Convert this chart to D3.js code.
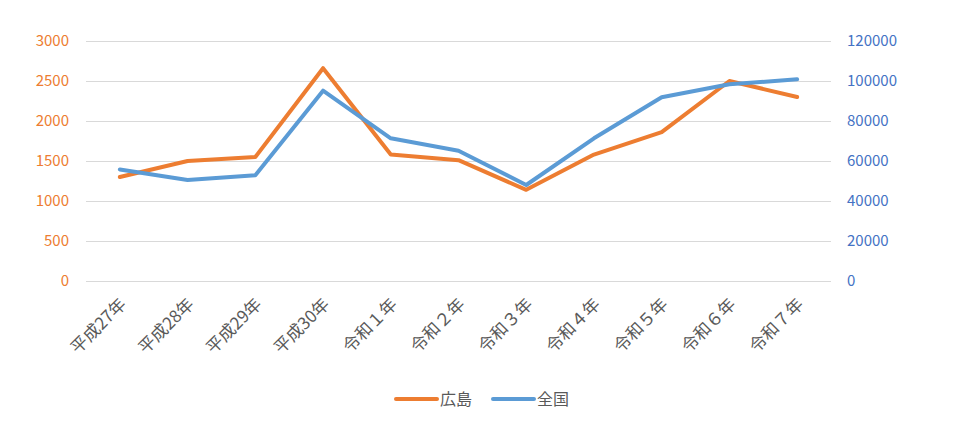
<!DOCTYPE html>
<meta charset="utf-8">
<style>
  body { margin: 0; background: #fff; }
  text { font-family: "Noto Sans CJK JP", "Noto Sans", sans-serif; }
</style>
<svg width="962" height="435"></svg>
<script src="https://d3js.org/d3.v7.min.js"></script>
<script>

var categories = ["平成27年", "平成28年", "平成29年", "平成30年", "令和１年", "令和２年", "令和３年", "令和４年", "令和５年", "令和６年", "令和７年"];
var hiroshima = [1300, 1500, 1550, 2660, 1580, 1510, 1140, 1580, 1860, 2500, 2300];
var zenkoku = [55800, 50500, 52850, 95150, 71350, 65150, 48000, 71350, 91850, 98350, 100850];
var leftTicks = [0, 500, 1000, 1500, 2000, 2500, 3000];
var rightTicks = [0, 20000, 40000, 60000, 80000, 100000, 120000];

var svg = d3.select("svg"),
    plotLeft = 86, plotRight = 831, plotTop = 41, plotBottom = 281;

var x = d3.scaleBand().domain(categories).range([plotLeft, plotRight]);
var yL = d3.scaleLinear().domain([0, 3000]).range([plotBottom, plotTop]);
var yR = d3.scaleLinear().domain([0, 120000]).range([plotBottom, plotTop]);

// gridlines
svg.append("g").selectAll("line")
  .data(leftTicks)
  .enter().append("line")
    .attr("x1", plotLeft).attr("x2", plotRight)
    .attr("y1", function(d) { return yL(d) + 0.5; })
    .attr("y2", function(d) { return yL(d) + 0.5; })
    .attr("stroke", "#d9d9d9")
    .attr("stroke-width", 1);

// left axis
var axL = svg.append("g")
    .attr("transform", "translate(" + (plotLeft - 17) + ",0)")
    .call(d3.axisLeft(yL).tickValues(leftTicks).tickFormat(d3.format("d")).tickSize(0).tickPadding(0));
axL.select(".domain").remove();
axL.selectAll("text")
    .attr("fill", "#ED7D31")
    .style("font-size", "15px");

// right axis
var axR = svg.append("g")
    .attr("transform", "translate(" + (plotRight + 16) + ",0)")
    .call(d3.axisRight(yR).tickValues(rightTicks).tickFormat(d3.format("d")).tickSize(0).tickPadding(0));
axR.select(".domain").remove();
axR.selectAll("text")
    .attr("fill", "#4472C4")
    .style("font-size", "15px");

// x axis labels
var axX = svg.append("g")
    .attr("transform", "translate(0," + (plotBottom + 16) + ")")
    .call(d3.axisBottom(x).tickSize(0).tickPadding(0));
axX.select(".domain").remove();
axX.selectAll("text")
    .attr("fill", "#595959")
    .style("font-size", "17px")
    .attr("text-anchor", "end")
    .attr("dy", "0.7em")
    .attr("transform", "translate(-1,0) rotate(-45)");

// lines
var lineL = d3.line()
    .x(function(d, i) { return x(categories[i]) + x.bandwidth() / 2; })
    .y(function(d) { return yL(d); });
var lineR = d3.line()
    .x(function(d, i) { return x(categories[i]) + x.bandwidth() / 2; })
    .y(function(d) { return yR(d); });

svg.append("path")
    .datum(hiroshima)
    .attr("d", lineL)
    .attr("fill", "none")
    .attr("stroke", "#ED7D31")
    .attr("stroke-width", 4)
    .attr("stroke-linecap", "round")
    .attr("stroke-linejoin", "round");

svg.append("path")
    .datum(zenkoku)
    .attr("d", lineR)
    .attr("fill", "none")
    .attr("stroke", "#5B9BD5")
    .attr("stroke-width", 4)
    .attr("stroke-linecap", "round")
    .attr("stroke-linejoin", "round");

// legend
var legend = [
  { name: "広島", color: "#ED7D31", x: 396 },
  { name: "全国", color: "#5B9BD5", x: 493 }
];
var lg = svg.append("g").selectAll("g")
  .data(legend)
  .enter().append("g")
    .attr("transform", function(d) { return "translate(" + d.x + ",399)"; });
lg.append("line")
    .attr("x1", 0).attr("x2", 41)
    .attr("stroke", function(d) { return d.color; })
    .attr("stroke-width", 4)
    .attr("stroke-linecap", "round");
lg.append("text")
    .attr("x", 44)
    .attr("dy", "0.35em")
    .attr("fill", "#595959")
    .style("font-size", "16px")
    .text(function(d) { return d.name; });

</script>
